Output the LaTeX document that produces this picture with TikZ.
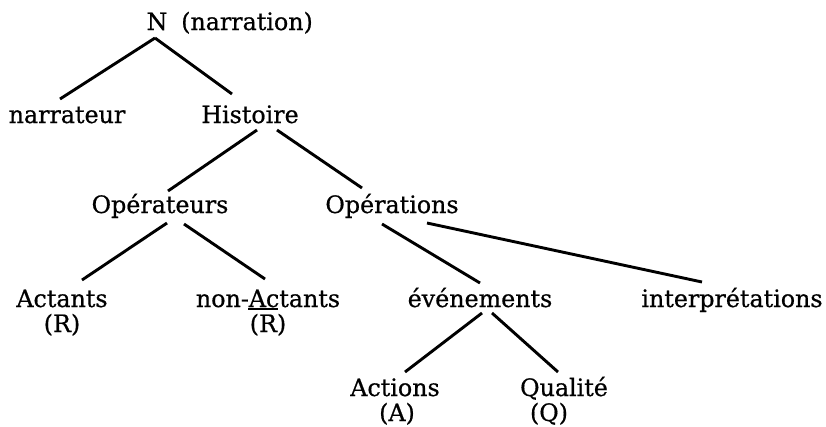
\documentclass[tikz,border=0pt]{standalone}
\usepackage{fontspec}
\setmainfont[FakeStretch=0.99,FakeBold=0.6]{DejaVu Serif}
\usetikzlibrary{calc}
\begin{document}
\begin{tikzpicture}[x=1pt,y=-1pt,
  lbl/.style={inner sep=0pt,anchor=base,font=\fontsize{24}{27}\selectfont},
  conn/.style={line width=2.9pt}]
\useasboundingbox (0,0) rectangle (826,426);
% nodes
\node[lbl] (n) at (157,30) {N};
\node[lbl,anchor=base west] (nl) at (181,30) {(narration)};
\node[lbl] (narrateur) at (67,123) {narrateur};
\node[lbl] (histoire) at (250,123) {Histoire};
\node[lbl] (operateurs) at (160,213) {Opérateurs};
\node[lbl] (operations) at (392,213) {Opérations};
\node[lbl] (actants) at (62,307) {Actants};
\node[lbl] (r1) at (62,332) {(R)};
\node[lbl] (nonact) at (268,307) {non-Actants};
\node[lbl] (r2) at (268,332) {(R)};
\node[lbl] (evenements) at (480,307) {événements};
\node[lbl] (interp) at (732,307) {interprétations};
\node[lbl] (actions) at (395,396) {Actions};
\node[lbl] (a) at (397,421) {(A)};
\node[lbl] (qualite) at (564,396) {Qualité};
\node[lbl] (q) at (549,421) {(Q)};
% bar
\draw[line width=1.8pt] ($(r2.base)+(-20,-23)$) -- ($(r2.base)+(10,-23)$);
% connectors
\draw[conn] ($(n.base)+(-2,8)$) -- ($(narrateur.base)+(-7,-24)$);
\draw[conn] ($(n.base)+(-2,8)$) -- ($(histoire.base)+(-18,-29)$);
\draw[conn] ($(histoire.base)+(7,7)$) -- ($(operateurs.base)+(8,-22)$);
\draw[conn] ($(histoire.base)+(27,7)$) -- ($(operations.base)+(-30,-25)$);
\draw[conn] ($(operateurs.base)+(7,10)$) -- ($(actants.base)+(20,-27)$);
\draw[conn] ($(operateurs.base)+(24,11)$) -- ($(nonact.base)+(-3,-28)$);
\draw[conn] ($(operations.base)+(-10,11)$) -- ($(evenements.base)+(0,-24)$);
\draw[conn] ($(operations.base)+(35,10)$) -- ($(interp.base)+(-30,-25)$);
\draw[conn] ($(evenements.base)+(2,6)$) -- ($(actions.base)+(10,-24)$);
\draw[conn] ($(evenements.base)+(12,6)$) -- ($(qualite.base)+(-6,-24)$);
\end{tikzpicture}
\end{document}
